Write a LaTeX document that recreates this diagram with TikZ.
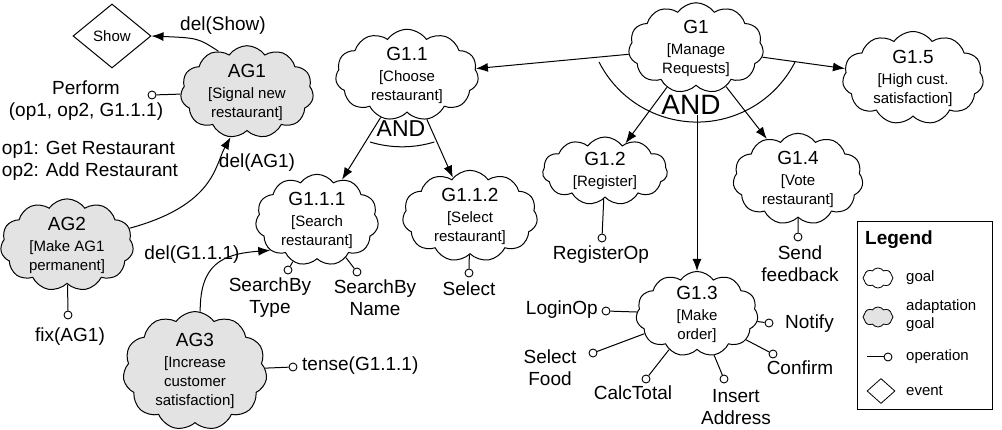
\documentclass[tikz,border=0pt]{standalone}
\usepackage{fontspec}
\setmainfont{Liberation Sans}
\usetikzlibrary{shapes.geometric, shapes.symbols, arrows.meta}

\newcommand{\goaltext}[2]{{\fontsize{19}{21}\selectfont #1}\\[2pt]{}[#2]}

\begin{document}
\begin{tikzpicture}[x=1pt, y=-1pt,
    goal/.style={cloud, draw, cloud puffs=11, cloud puff arc=110, cloud ignores aspect, inner sep=0pt, align=center, line width=1pt, font=\fontsize{15}{19}\selectfont},
    adapt/.style={goal, fill=gray!22},
    op/.style={circle, draw, fill=white, inner sep=0pt, minimum size=8pt, line width=0.9pt},
    txt/.style={align=center, inner sep=0pt, font=\fontsize{19}{22}\selectfont},
    legtxt/.style={anchor=west, align=left, inner sep=0pt, font=\fontsize{15}{18}\selectfont},
    arr/.style={-{Latex[length=12pt, width=9pt]}, line width=1pt},
    link/.style={line width=1pt}
]
\useasboundingbox (0,0) rectangle (1002,430);

% Goals
\node[goal, minimum width=135, minimum height=87] (g1) at (696,48) {\goaltext{G1}{Manage\\Requests}};
\node[goal, minimum width=143, minimum height=76] (g11) at (407,75) {\goaltext{G1.1}{Choose\\restaurant}};
\node[goal, minimum width=125, minimum height=68] (g12) at (605,171) {\goaltext{G1.2}{Register}};
\node[goal, minimum width=122, minimum height=78] (g13) at (697,314) {\goaltext{G1.3}{Make\\order}};
\node[goal, minimum width=130, minimum height=78] (g14) at (798,179) {\goaltext{G1.4}{Vote\\restaurant}};
\node[goal, minimum width=141, minimum height=83] (g15) at (913,78) {\goaltext{G1.5}{High cust.\\satisfaction}};
\node[goal, minimum width=123, minimum height=73] (g111) at (317,220) {\goaltext{G1.1.1}{Search\\restaurant}};
\node[goal, minimum width=135, minimum height=72] (g112) at (470,216) {\goaltext{G1.1.2}{Select\\restaurant}};

% Adaptation goals
\node[adapt, minimum width=133, minimum height=75] (ag1) at (247,92) {\goaltext{AG1}{Signal new\\restaurant}};
\node[adapt, minimum width=133, minimum height=82] (ag2) at (67,245) {\goaltext{AG2}{Make AG1\\permanent}};
\node[adapt, minimum width=144, minimum height=100] (ag3) at (195,371) {\goaltext{AG3}{Increase\\customer\\satisfaction}};

% Event
\node[diamond, draw, line width=1pt, minimum width=78, minimum height=64, inner sep=0pt, font=\fontsize{15}{17}\selectfont] (show) at (112,36) {Show};

% AND refinements
\node[inner sep=0pt, font=\fontsize{28}{30}\selectfont] (and1) at (691,105) {AND};
\node[inner sep=0pt, font=\fontsize{23}{26}\selectfont] (and11) at (401,129) {AND};
\draw[link] (599,62) arc[start angle=153, end angle=27, radius=110];
\draw[link] (370,142) arc[start angle=107, end angle=73, radius=110];

\draw[arr] (g1) -- (g11);
\draw[arr] (g1) -- (g15);
\draw[arr] (g1) -- (g12);
\draw[arr] (g13 |- and1.base) -- (g13);
\draw[arr] (g1) -- (g14);
\draw[arr] (g11) -- (g111);
\draw[arr] (g11) -- (g112);

% Adaptation arrows
\node[txt] (delshow) at (223,26) {del(Show)};
\node[txt] (delag1) at (257,163) {del(AG1)};
\node[txt] (delg111) at (192,255) {del(G1.1.1)};
\draw[arr] (ag1.125) .. controls (198,38) .. (show.east);
\draw[arr] (ag2.15) .. controls (215,205) and (215,165) .. (ag1.250);
\draw[arr] (ag3.85) .. controls (200,264) and (222,254) .. (g111.213);

% Operations
\node[op] (perfop) at (152,95) {};
\node[txt] (perf) at (86,101) {Perform\\(op1, op2, G1.1.1)};
\node[txt, align=left] (opnote) at (90,161) {op1: Get Restaurant\\op2: Add Restaurant};
\node[op] (fixop) at (68,315) {};
\node[txt] (fix) at (70,337) {fix(AG1)};
\node[op] (tenseop) at (293,367) {};
\node[txt, anchor=west] (tense) at (302,366) {tense(G1.1.1)};
\node[op] (typeop) at (288,270) {};
\node[txt] (type) at (270,298) {SearchBy\\Type};
\node[op] (nameop) at (357,272) {};
\node[txt] (name) at (375,298) {SearchBy\\Name};
\node[op] (selop) at (469,273) {};
\node[txt] (sel) at (469,289) {Select};
\node[op] (regop) at (602,238) {};
\node[txt] (reg) at (601,255) {RegisterOp};
\node[op] (sendop) at (798,237) {};
\node[txt] (send) at (800,264) {Send\\feedback};
\node[op] (loginop) at (606,311) {};
\node[txt, anchor=east] (login) at (598,310) {LoginOp};
\node[op] (foodop) at (593,353) {};
\node[txt] (food) at (550,368) {Select\\Food};
\node[op] (calcop) at (646,379) {};
\node[txt] (calc) at (633,393) {CalcTotal};
\node[op] (addrop) at (724,379) {};
\node[txt] (addr) at (736,407) {Insert\\Address};
\node[op] (confop) at (773,354) {};
\node[txt] (conf) at (800,368) {Confirm};
\node[op] (notop) at (769,323) {};
\node[txt, anchor=west] (notify) at (785,324) {Notify};

\draw[link] (ag1) -- (perfop);
\draw[link] (ag2) -- (fixop);
\draw[link] (ag3) -- (tenseop);
\draw[link] (g111) -- (typeop);
\draw[link] (g111) -- (nameop);
\draw[link] (g112) -- (selop);
\draw[link] (g12) -- (regop);
\draw[link] (g14) -- (sendop);
\draw[link] (g13) -- (loginop);
\draw[link] (g13) -- (foodop);
\draw[link] (g13) -- (calcop);
\draw[link] (g13) -- (addrop);
\draw[link] (g13) -- (confop);
\draw[link] (g13) -- (notop);

% Legend
\node[draw, line width=1pt, minimum width=135, minimum height=188, inner sep=0pt] (legend) at (924.5,316) {};
\node[anchor=west, inner sep=0pt, font=\fontsize{19}{21}\selectfont\bfseries] (legtitle) at (865,240) {Legend};
\node[goal, minimum width=30, minimum height=20, line width=0.8pt, cloud puffs=8] (leggoal) at (878,278) {};
\node[adapt, minimum width=30, minimum height=20, line width=0.8pt, cloud puffs=8] (legadapt) at (878,317) {};
\node[op] (legop) at (888,357) {};
\coordinate (legopend) at (867,357);
\draw[link] (legopend) -- (legop);
\node[diamond, draw, minimum width=28, minimum height=25, inner sep=0pt, line width=0.8pt] (legevent) at (881,391) {};
\node[legtxt] (lgoal) at (906,278) {goal};
\node[legtxt] (ladapt) at (906,316) {adaptation\\goal};
\node[legtxt] (lop) at (906,357) {operation};
\node[legtxt] (levent) at (906,391) {event};

\end{tikzpicture}
\end{document}
